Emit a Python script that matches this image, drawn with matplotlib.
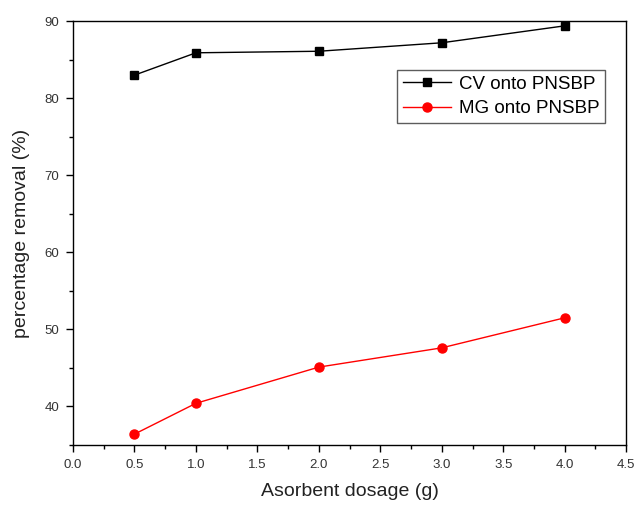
import matplotlib
matplotlib.use("Agg")
import matplotlib.pyplot as plt
from matplotlib.ticker import MultipleLocator

plt.rcParams['font.family'] = ['Liberation Sans', 'DejaVu Sans']

dosage = [0.5, 1.0, 2.0, 3.0, 4.0]
cv_removal = [83.0, 85.9, 86.1, 87.2, 89.4]
mg_removal = [36.4, 40.4, 45.1, 47.6, 51.5]
series_labels = ["CV onto PNSBP", "MG onto PNSBP"]

fig = plt.figure(figsize=(6.37, 5.05), dpi=100)
ax = fig.add_axes([0.1146, 0.119, 0.8684, 0.839])

ax.plot(dosage, cv_removal, color='black', marker='s', markersize=6, linewidth=1.0,
        label=series_labels[0])
ax.plot(dosage, mg_removal, color='red', marker='o', markersize=6.5, linewidth=1.0,
        label=series_labels[1])

ax.set_xlim(0, 4.5)
ax.set_ylim(35, 90)
ax.xaxis.set_major_locator(MultipleLocator(0.5))
ax.xaxis.set_minor_locator(MultipleLocator(0.25))
ax.yaxis.set_major_locator(MultipleLocator(10))
ax.yaxis.set_minor_locator(MultipleLocator(5))
ax.xaxis.set_major_formatter(matplotlib.ticker.FormatStrFormatter('%.1f'))
ax.tick_params(which='major', direction='out', length=5, width=1, labelsize=9.5,
               labelcolor='#333333', top=False, right=False, pad=5)
ax.tick_params(which='minor', direction='out', length=3, width=1, top=False, right=False)
for s in ax.spines.values():
    s.set_linewidth(1.0)

ax.set_xlabel("Asorbent dosage (g)", fontsize=14, color='#222222', labelpad=9)
ax.set_ylabel("percentage removal (%)", fontsize=14, color='#222222', labelpad=10)

leg = ax.legend(loc='upper right', bbox_to_anchor=(0.962, 0.885), fontsize=13.5,
                frameon=True, fancybox=False, edgecolor='#333333',
                handlelength=2.6, borderpad=0.3, labelspacing=0.4, handletextpad=0.4,
                borderaxespad=0)
leg.get_frame().set_linewidth(1.0)

fig.savefig("out.png", dpi=100)
